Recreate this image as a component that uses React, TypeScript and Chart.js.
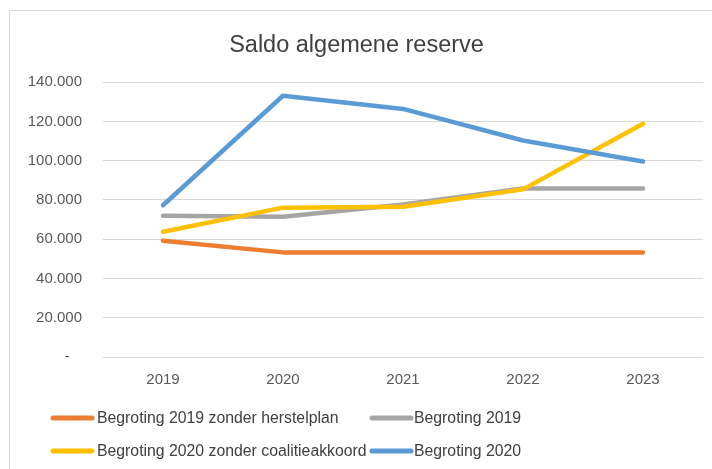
import React, { useEffect, useRef } from "react";
import { Chart, registerables } from "chart.js";

Chart.register(...registerables);

const years = ["2019", "2020", "2021", "2022", "2023"];
const seriesNames = [
  "Begroting 2019 zonder herstelplan",
  "Begroting 2019",
  "Begroting 2020 zonder coalitieakkoord",
  "Begroting 2020",
];
const herstelplan2019 = [59200, 53300, 53300, 53300, 53300];
const begroting2019 = [71900, 71400, 77700, 85900, 85900];
const coalitie2020 = [63800, 76100, 76500, 85400, 118800];
const begroting2020 = [77300, 133100, 126400, 110300, 99600];
const seriesColors = ["#ED7D31", "#A5A5A5", "#FFC000", "#5B9BD5"];
const yTicks = [0, 20000, 40000, 60000, 80000, 100000, 120000, 140000];

const FONT = "'Liberation Sans', Arial, sans-serif";

const legendPlugin = {
  id: "gridLegend",
  afterDraw(chart: any) {
    const ctx = chart.ctx;
    const ds = chart.data.datasets;
    const cols = [
      { lx: 43, tx: 87 },
      { lx: 362, tx: 404 },
    ];
    const rows = [407, 440];
    ctx.save();
    ctx.font = `15.8px ${FONT}`;
    ctx.textBaseline = "middle";
    ctx.textAlign = "left";
    ds.forEach((d: any, i: number) => {
      const c = cols[i % 2];
      const y = rows[Math.floor(i / 2)];
      ctx.strokeStyle = d.borderColor;
      ctx.lineWidth = 5;
      ctx.lineCap = "round";
      ctx.beginPath();
      ctx.moveTo(c.lx, y);
      ctx.lineTo(c.lx + 39, y);
      ctx.stroke();
      ctx.fillStyle = "#404040";
      ctx.fillText(d.label, c.tx, y + 1);
    });
    ctx.restore();
  },
};

export default function App() {
  const ref = useRef<HTMLCanvasElement | null>(null);
  useEffect(() => {
    if (!ref.current) return;
    const values = [herstelplan2019, begroting2019, coalitie2020, begroting2020];
    const chart = new Chart(ref.current, {
      type: "line",
      data: {
        labels: years,
        datasets: values.map((v, i) => ({
          label: seriesNames[i],
          data: v,
          borderColor: seriesColors[i],
          backgroundColor: seriesColors[i],
          borderWidth: 4.5,
          pointRadius: 0,
          tension: 0,
          borderCapStyle: "round" as const,
          borderJoinStyle: "round" as const,
          order: 4 - i,
        })),
      },
      options: {
        animation: false,
        responsive: false,
        maintainAspectRatio: false,
        layout: { padding: { top: 0, left: 0, right: 11, bottom: 84 } },
        plugins: {
          legend: { display: false },
          tooltip: { enabled: false },
          title: {
            display: true,
            text: "Saldo algemene reserve",
            color: "#404040",
            font: { family: FONT, size: 23.5, weight: "normal" as const, lineHeight: 1.2 },
            padding: { top: 20, bottom: 23 },
          },
        },
        scales: {
          x: {
            grid: { display: false, drawTicks: false },
            border: { display: false },
            offset: true,
            ticks: {
              color: "#595959",
              padding: 14,
              font: { family: FONT, size: 15 },
            },
            afterFit(scale: any) {
              scale.height = 40;
            },
          },
          y: {
            min: 0,
            max: 140000,
            grid: { color: "#D9D9D9", lineWidth: 1, drawTicks: false },
            border: { display: false },
            afterBuildTicks(scale: any) {
              scale.ticks = yTicks.map((v) => ({ value: v }));
            },
            ticks: {
              color: "#595959",
              padding: 21,
              font: { family: FONT, size: 15 },
              callback: (v: any) => (Number(v) === 0 ? "-   " : `${Number(v) / 1000}.000`),
            },
            afterFit(scale: any) {
              scale.width = 93;
            },
          },
        },
      },
      plugins: [legendPlugin],
    });
    return () => chart.destroy();
  }, []);

  return (
    <div
      style={{
        position: "fixed",
        left: 0,
        top: 0,
        width: 712,
        height: 469,
        overflow: "hidden",
        background: "#fff",
      }}
    >
      <div
        style={{
          position: "absolute",
          left: 9,
          top: 10,
          width: 720,
          height: 480,
          border: "1px solid #D9D9D9",
          boxSizing: "border-box",
        }}
      >
        <canvas ref={ref} width={704} height={470} style={{ display: "block", width: 704, height: 470 }} />
      </div>
    </div>
  );
}
